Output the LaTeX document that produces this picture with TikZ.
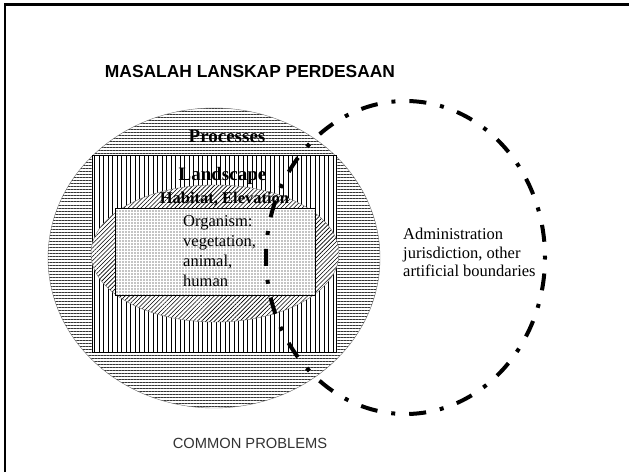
\documentclass[tikz,border=0pt]{standalone}
\usepackage{fontspec}
\setmainfont{Liberation Serif}
\setsansfont{Liberation Sans}
\usetikzlibrary{patterns.meta}

\begin{document}
\begin{tikzpicture}[x=1pt,y=-1pt,
    procfill/.style={draw=black!55,pattern={Lines[angle=0,distance=3pt,line width=1pt]},pattern color=black!80,preaction={fill=white}},
    landfill/.style={draw=black,pattern={Lines[angle=90,distance=4.5pt,line width=0.7pt]},preaction={fill=white}},
    habfill/.style={draw=black!55,pattern={Lines[angle=45,distance=3pt,line width=0.6pt]},preaction={fill=white}},
    orgfill/.style={draw=black,pattern={Dots[distance=3pt,radius=0.55pt]},preaction={fill=white}},
    adminline/.style={line width=4pt,dash pattern=on 17pt off 14pt on 4pt off 14pt,dash phase=33pt},
    bigbold/.style={anchor=base,font=\bfseries\fontsize{19}{22}\selectfont},
    plaintext/.style={anchor=north west,inner sep=0pt,align=left,font=\fontsize{16.5}{20}\selectfont}]
      \useasboundingbox (0,0) rectangle (629,472);
      \draw[line width=2.5pt] (5,472) -- (5,4.5) -- (629,4.5);
      \node[anchor=base,font=\sffamily\bfseries\fontsize{17.4}{20}\selectfont] (title) at (250,77) {MASALAH LANSKAP PERDESAAN};
      \draw[procfill] (214,258) ellipse [x radius=166,y radius=150];
      \draw[landfill] (92,155) rectangle (336,352);
      \draw[habfill] (215,253.5) ellipse [x radius=124,y radius=68.5];
      \draw[orgfill] (115,208) rectangle (315,295);
      \node[bigbold] (processes) at (227,142.7) {Processes};
      \node[bigbold] (landscape) at (222.5,180) {Landscape};
      \node[bigbold,font=\bfseries\fontsize{16.5}{20}\selectfont] (habitat) at (224.5,203) {Habitat, Elevation};
      \node[plaintext] (organism) at (183,215) {Organism:\\vegetation,\\animal,\\human};
      \node[plaintext,font=\fontsize{16.5}{18.5}\selectfont] (admin) at (403,228) {Administration\\jurisdiction, other\\artificial boundaries};
      \draw[adminline] (405.5,257.5) ellipse [x radius=139.5,y radius=156.5];
      \node[anchor=base,text=black!80,font=\sffamily\fontsize{14.7}{18}\selectfont] (common) at (250,448) {COMMON PROBLEMS};
\end{tikzpicture}
\end{document}
